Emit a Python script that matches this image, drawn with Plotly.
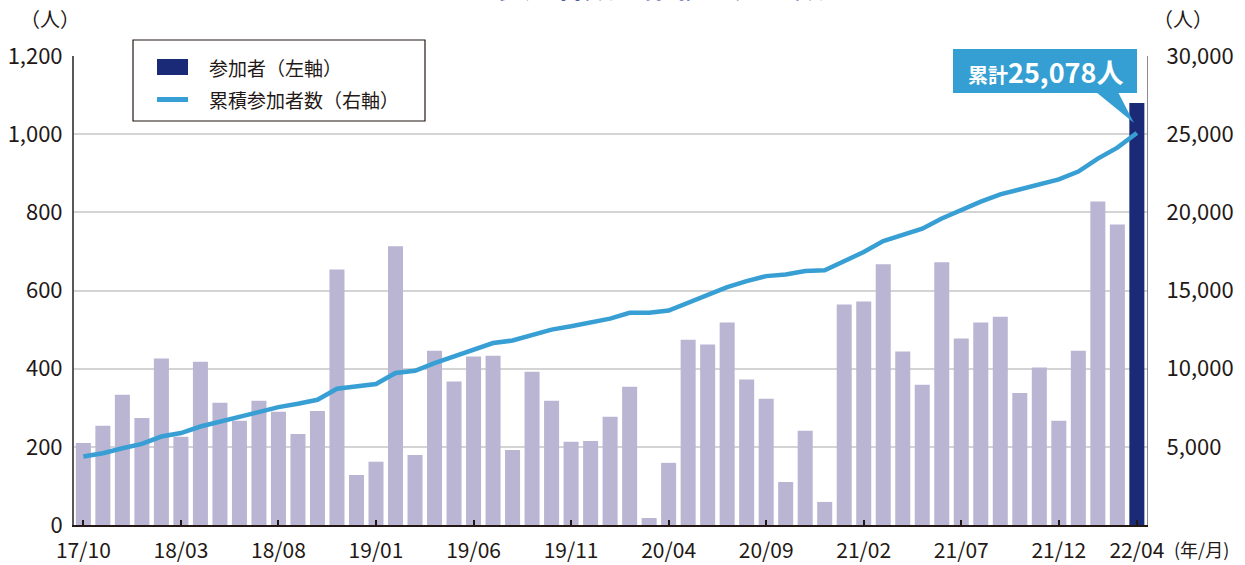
import plotly.graph_objects as go
import pandas as pd

# ---- data ----
months = list(pd.period_range("2017-10", "2022-04", freq="M").strftime("%y/%m"))
participants = [210, 254, 333, 274, 426, 226, 418, 313, 267, 318,
                290, 233, 292, 654, 128, 162, 713, 179, 446, 367,
                431, 433, 192, 392, 318, 213, 215, 277, 354, 18,
                159, 474, 462, 518, 372, 323, 110, 241, 59, 564,
                572, 667, 444, 359, 672, 477, 518, 533, 338, 403,
                267, 446, 828, 769, 1080]
cumulative = [4380, 4590, 4910, 5190, 5660, 5880, 6300, 6620, 6900, 7260,
              7540, 7760, 8010, 8720, 8870, 9020, 9720, 9860, 10360, 10790,
              11220, 11640, 11800, 12180, 12500, 12710, 12930, 13200, 13570, 13580,
              13720, 14210, 14700, 15210, 15600, 15920, 16020, 16240, 16290, 16880,
              17460, 18160, 18590, 18950, 19610, 20150, 20680, 21150, 21470, 21860,
              22110, 22610, 23440, 24140, 25078]
x_ticks = ["17/10", "18/03", "18/08", "19/01", "19/06", "19/11",
           "20/04", "20/09", "21/02", "21/07", "21/12", "22/04"]
left_ticks = [0, 200, 400, 600, 800, 1000, 1200]
right_ticks = [5000, 10000, 15000, 20000, 25000, 30000]

TXT = "#231815"
FONT = "Noto Sans CJK JP"
LAV = "#bab5d3"
NAVY = "#1b2a77"
BLUE = "#389fd4"

W, H = 1245, 565
L, R, T, B = 74, 98, 56, 40
PW, PH = W - L - R, H - T - B


def xp(px):
    return (px - L) / PW


def yp(py):
    return (H - B - py) / PH


fig = go.Figure()
fig.add_trace(go.Bar(x=months[:-1], y=participants[:-1], marker_color=LAV,
                     marker_line_width=0, showlegend=False, name="参加者"))
fig.add_trace(go.Bar(x=months[-1:], y=participants[-1:], marker_color=NAVY,
                     marker_line_width=0, showlegend=False, name="参加者（左軸）"))
fig.add_trace(go.Scatter(x=months, y=cumulative, yaxis="y2", mode="lines",
                         line=dict(color=BLUE, width=4.5), showlegend=False,
                         name="累積参加者数（右軸）"))

fig.update_layout(
    width=W, height=H, autosize=False,
    margin=dict(l=L, r=R, t=T, b=B, pad=0, autoexpand=False),
    paper_bgcolor="white", plot_bgcolor="white",
    barmode="overlay", bargap=0.23,
    font=dict(family=FONT, color=TXT, size=22),
    xaxis=dict(type="category", range=[-0.48, 54.52], tickmode="array",
               tickvals=x_ticks, ticktext=x_ticks, ticks="inside", ticklen=5,
               tickwidth=1.5, tickcolor=TXT, showline=True, linecolor=TXT,
               linewidth=2, showgrid=False, ticklabelstandoff=6, automargin=False,
               tickfont=dict(size=21, color=TXT, family=FONT)),
    yaxis=dict(range=[0, 1200], tickvals=left_ticks, tickformat=",",
               showgrid=True, gridcolor="#d4d4d4", gridwidth=1.5,
               zeroline=False, showline=True, linecolor="#595757", linewidth=2,
               ticks="", ticklabelstandoff=5, automargin=False,
               tickfont=dict(size=22, color=TXT, family=FONT)),
    yaxis2=dict(range=[0, 30000], overlaying="y", side="right",
                tickvals=right_ticks, tickformat=",", showgrid=False,
                zeroline=False, showline=True, linecolor="#8a8a8a", linewidth=1.2,
                ticks="", ticklabelstandoff=14, automargin=False,
                tickfont=dict(size=22, color=TXT, family=FONT)),
)

shapes = []
annotations = []

# manual legend
shapes.append(dict(type="rect", xref="paper", yref="paper", layer="above",
                   x0=xp(133), x1=xp(425), y0=yp(121), y1=yp(40),
                   fillcolor="white", line=dict(color=TXT, width=1.2)))
shapes.append(dict(type="rect", xref="paper", yref="paper", layer="above",
                   x0=xp(157), x1=xp(188), y0=yp(75), y1=yp(59),
                   fillcolor=NAVY, line=dict(width=0)))
shapes.append(dict(type="line", xref="paper", yref="paper", layer="above",
                   x0=xp(157), x1=xp(188), y0=yp(99.5), y1=yp(99.5),
                   line=dict(color=BLUE, width=5)))
annotations.append(dict(text="参加者（左軸）", xref="paper", yref="paper",
                        x=xp(207), y=yp(67), xanchor="left", yanchor="middle",
                        showarrow=False, font=dict(size=19, color=TXT, family=FONT)))
annotations.append(dict(text="累積参加者数（右軸）", xref="paper", yref="paper",
                        x=xp(207), y=yp(99), xanchor="left", yanchor="middle",
                        showarrow=False, font=dict(size=19, color=TXT, family=FONT)))

# callout
shapes.append(dict(type="rect", xref="paper", yref="paper", layer="above",
                   x0=xp(953), x1=xp(1137), y0=yp(93), y1=yp(49),
                   fillcolor="#359fd3", line=dict(width=0)))
shapes.append(dict(type="path", xref="paper", yref="paper", layer="above",
                   path=f"M {xp(1096)},{yp(92)} L {xp(1118)},{yp(92)} L {xp(1134)},{yp(123)} Z",
                   fillcolor="#359fd3", line=dict(width=0)))
annotations.append(dict(
    text="<b><span style='font-size:20px'>累計</span>25,078人</b>",
    xref="paper", yref="paper", x=xp(1045), y=yp(71), xanchor="center",
    yanchor="middle", showarrow=False,
    font=dict(size=27, color="white", family=FONT)))

# axis unit labels
annotations.append(dict(text="（人）", xref="paper", yref="paper", x=xp(50), y=yp(19),
                        xanchor="center", yanchor="middle", showarrow=False,
                        font=dict(size=20, color=TXT, family=FONT)))
annotations.append(dict(text="（人）", xref="paper", yref="paper", x=xp(1183), y=yp(19),
                        xanchor="center", yanchor="middle", showarrow=False,
                        font=dict(size=20, color=TXT, family=FONT)))
annotations.append(dict(text="(年/月)", xref="paper", yref="paper", x=xp(1172), y=yp(549),
                        xanchor="left", yanchor="middle", showarrow=False,
                        font=dict(size=18, color=TXT, family=FONT)))

# title (cut off at the top of the image)
annotations.append(dict(text="<b>ツアー参加者数の推移（延べ数）</b>", xref="paper", yref="paper",
                        x=xp(630), y=yp(-16), xanchor="center", yanchor="middle",
                        showarrow=False, font=dict(size=30, color="#2b3990", family=FONT)))

fig.update_layout(shapes=shapes, annotations=annotations)
fig.write_html("out.html", config={"displayModeBar": False},
               post_script="document.body.style.margin='0';")
